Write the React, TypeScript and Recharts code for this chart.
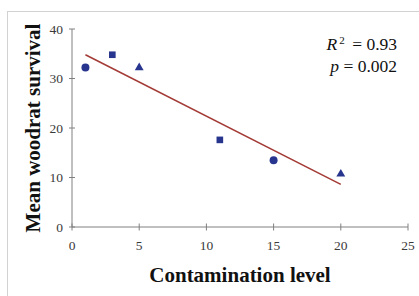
import React from 'react';
import { ScatterChart, Scatter, XAxis, YAxis, Label, Symbols } from 'recharts';

const circleX = [1, 15];
const circleY = [32.2, 13.5];
const squareX = [3, 11];
const squareY = [34.8, 17.6];
const triangleX = [5, 20];
const triangleY = [32.2, 10.7];
const trendX = [1, 20];
const trendY = [34.8, 8.6];
const xTicks = [0, 5, 10, 15, 20, 25];
const yTicks = [0, 10, 20, 30, 40];
const xTitle = 'Contamination level';
const yTitle = 'Mean woodrat survival';
const r2Text = '0.93';
const pText = '0.002';

const zip = (xs: number[], ys: number[]) => xs.map((x, i) => ({ x, y: ys[i] }));

const circles = zip(circleX, circleY);
const squares = zip(squareX, squareY);
const triangles = zip(triangleX, triangleY);
const trend = zip(trendX, trendY);

const MARK = '#27358f';
const AXIS = '#808080';
const TICKTXT = '#3a3a3a';
const FONT = '"Liberation Serif", "Times New Roman", serif';
const X_MARGIN = 10;
const Y_MARGIN = 10;

const makeShape = (type: any, size: number) => (props: any) => (
  <Symbols cx={props.cx} cy={props.cy} type={type} size={size} sizeType="area" fill={MARK} />
);

const XTick = (props: any) => {
  const { x, y, payload } = props;
  const ay = y - X_MARGIN;
  return (
    <g>
      <line x1={x} x2={x} y1={ay - 3.5} y2={ay + 3.5} stroke={AXIS} strokeWidth={1} />
      <text x={x} y={ay + 23} textAnchor="middle" fontFamily={FONT} fontSize={13.5} fill={TICKTXT}>
        {payload.value}
      </text>
    </g>
  );
};

const YTick = (props: any) => {
  const { x, y, payload } = props;
  const ax = x + Y_MARGIN;
  return (
    <g>
      <line x1={ax - 3} x2={ax + 3} y1={y} y2={y} stroke={AXIS} strokeWidth={1} />
      <text x={ax - 9} y={y + 4.5} textAnchor="end" fontFamily={FONT} fontSize={13.5} fill={TICKTXT}>
        {payload.value}
      </text>
    </g>
  );
};

export default function App() {
  return (
    <div style={{ position: 'relative', width: 419, height: 296, background: '#fff', overflow: 'hidden' }}>
      <style>{`html,body{margin:0;padding:0;overflow:hidden;}`}</style>
      <div
        style={{
          position: 'absolute',
          left: 6.5,
          top: 10.5,
          width: 440,
          height: 320,
          borderLeft: '1.5px solid #d2d2d2',
          borderTop: '1.5px solid #d2d2d2',
          boxSizing: 'border-box',
        }}
      />
      <div style={{ position: 'absolute', left: 0, top: 0 }}>
        <ScatterChart width={419} height={296} margin={{ top: 29, right: 11, left: 0, bottom: 0 }}>
          <XAxis
            type="number"
            dataKey="x"
            domain={[0, 25]}
            ticks={xTicks}
            stroke={AXIS}
            tickLine={false}
            tickSize={0}
            tickMargin={X_MARGIN}
            tick={<XTick />}
            height={69}
            interval={0}
          >
            <Label
              value={xTitle}
              position="center"
              dy={13}
              style={{ fontFamily: FONT, fontSize: 21, fontWeight: 'bold', fill: '#111' }}
            />
          </XAxis>
          <YAxis
            type="number"
            dataKey="y"
            domain={[0, 40]}
            ticks={yTicks}
            stroke={AXIS}
            tickLine={false}
            tickSize={0}
            tickMargin={Y_MARGIN}
            tick={<YTick />}
            width={72}
            interval={0}
          >
            <Label
              value={yTitle}
              position="center"
              angle={-90}
              dx={-3}
              style={{ fontFamily: FONT, fontSize: 21, fontWeight: 'bold', fill: '#111', textAnchor: 'middle' }}
            />
          </YAxis>
          <Scatter
            data={trend}
            line={{ stroke: '#a33a35', strokeWidth: 1.5 }}
            shape={() => null}
            isAnimationActive={false}
          />
          <Scatter data={circles} shape={makeShape('circle', 50)} fill={MARK} isAnimationActive={false} />
          <Scatter data={squares} shape={makeShape('square', 44)} fill={MARK} isAnimationActive={false} />
          <Scatter data={triangles} shape={makeShape('triangle', 34)} fill={MARK} isAnimationActive={false} />
        </ScatterChart>
      </div>
      <div
        style={{
          position: 'absolute',
          right: 419 - 397,
          top: 33,
          textAlign: 'right',
          fontFamily: FONT,
          fontSize: 17.5,
          lineHeight: '22px',
          color: '#111',
          whiteSpace: 'nowrap',
        }}
      >
        <div>
          <i>R</i>
          <sup style={{ fontSize: 11, verticalAlign: '6px', lineHeight: 0, marginLeft: 2, marginRight: 3 }}>2</sup> ={' '}
          {r2Text}
        </div>
        <div>
          <i>p</i>&nbsp;= {pText}
        </div>
      </div>
    </div>
  );
}
